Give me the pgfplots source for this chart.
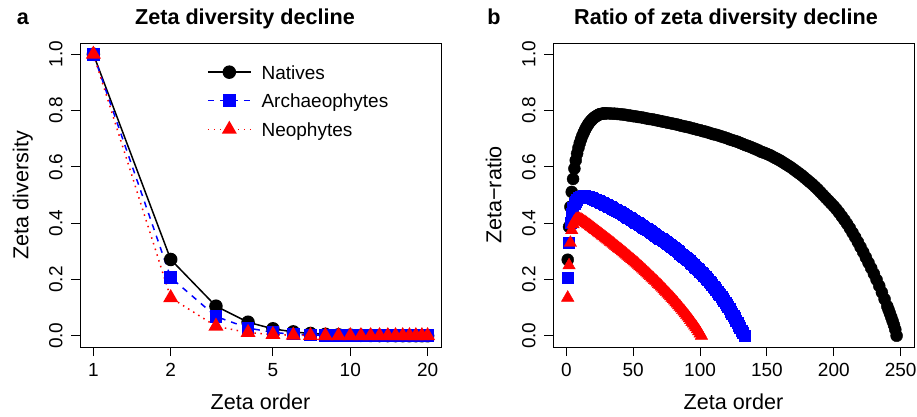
\documentclass[border=0pt]{standalone}
\usepackage{fontspec}
\setmainfont{Liberation Sans}
\usepackage{pgfplots}
\pgfplotsset{compat=1.18}

\pgfplotsset{
  rstyle/.style={
    scale only axis, width=361pt, height=304pt,
    axis line style={line width=0.9pt, black},
    tick style={line width=0.9pt, black},
    tick align=outside, major tick length=9pt,
    xtick pos=bottom, ytick pos=left,
    ymin=-0.04, ymax=1.04,
    ytick={0,0.2,0.4,0.6,0.8,1.0},
    yticklabels={0.0,0.2,0.4,0.6,0.8,1.0},
    tick label style={font=\fontsize{19}{22}\selectfont},
    yticklabel style={xshift=-5pt, rotate=90, anchor=south},
    xticklabel style={yshift=-4pt},
    label style={font=\fontsize{21.6}{26}\selectfont},
    xlabel style={at={(axis description cs:0.5,-0.207)}, anchor=base},
    ylabel style={at={(axis description cs:-0.143,0.5)}, rotate=0, anchor=base},
  }
}

\begin{document}
\begin{tikzpicture}[x=1pt,y=1pt]
\path[use as bounding box] (0,0) rectangle (917,416);

\node[anchor=base, font=\bfseries\fontsize{21.6}{26}\selectfont] at (23,391) {a};
\node[anchor=base, font=\bfseries\fontsize{21.6}{26}\selectfont] at (245,391) {Zeta diversity decline};
\node[anchor=base, font=\bfseries\fontsize{21.6}{26}\selectfont] at (494,391) {b};
\node[anchor=base, font=\bfseries\fontsize{21.6}{26}\selectfont] at (726,391) {Ratio of zeta diversity decline};

\begin{axis}[rstyle, at={(80pt,69pt)}, anchor=south west,
  xmode=log, xmin=0.887, xmax=22.55,
  xtick={1,2,5,10,20}, xticklabels={1,2,5,10,20}, xminorticks=false,
  xlabel={Zeta order}, ylabel={Zeta diversity},
  legend image code/.code={\draw[mark repeat=2,mark phase=2] plot coordinates {(0pt,0pt) (21.5pt,0pt) (43pt,0pt)};},
  legend style={at={(axis description cs:0.352,0.81)}, anchor=west, draw=none, fill=none,
    inner sep=0pt, outer sep=0pt, row sep=14.5pt, column sep=10pt,
    font=\fontsize{19}{22}\selectfont,
    nodes={inner sep=0pt, text height=14pt, text depth=0pt}},
  legend cell align=left,
]
\addplot[black, line width=1.5pt, mark=*, mark size=6pt, mark options={solid}] coordinates {
(1,1.0) (2,0.271) (3,0.105) (4,0.048) (5,0.0246) (6,0.0137) (7,0.0081) (8,0.005) (9,0.0032) (10,0.0021)
(11,0.0014) (12,0.001) (13,0.0007) (14,0.0005) (15,0.0004) (16,0.0003) (17,0.0002) (18,0.0002) (19,0.0001) (20,0.0001)};
\addlegendentry{Natives}
\addplot[blue, line width=1.5pt, dash pattern=on 6pt off 6pt, mark=square*, mark size=5.5pt, mark options={solid}] coordinates {
(1,1.0) (2,0.207) (3,0.0685) (4,0.0274) (5,0.0119) (6,0.0054) (7,0.0025) (8,0.0012) (9,0.0006) (10,0.0003)
(11,0.0002) (12,0.0001) (13,0.0001) (14,0.0) (15,0.0) (16,0.0) (17,0.0) (18,0.0) (19,0.0) (20,0.0)};
\addlegendentry{Archaeophytes}
\addplot[red, line width=1.5pt, dash pattern=on 1.5pt off 4.5pt, mark=triangle*, mark size=7.2pt, mark options={solid}] coordinates {
(1,1.0) (2,0.135) (3,0.0338) (4,0.0111) (5,0.0042) (6,0.0017) (7,0.0007) (8,0.0003) (9,0.0001) (10,0.0001)
(11,0.0) (12,0.0) (13,0.0) (14,0.0) (15,0.0) (16,0.0) (17,0.0) (18,0.0) (19,0.0) (20,0.0)};
\addlegendentry{Neophytes}
\end{axis}

\begin{axis}[rstyle, at={(553pt,69pt)}, anchor=south west,
  xmin=-10, xmax=260,
  xtick={0,50,100,150,200,250}, xticklabels={0,50,100,150,200,250},
  xlabel={Zeta order}, ylabel={Zeta−ratio},
]
\addplot[only marks, black, mark=*, mark size=6pt] coordinates {
(1,0.270) (2,0.387) (3,0.458) (4,0.511) (5,0.557) (6,0.594) (7,0.623) (8,0.647) (9,0.667) (10,0.684)
(11,0.698) (12,0.711) (13,0.722) (14,0.732) (15,0.741) (16,0.749) (17,0.756) (18,0.762) (19,0.767) (20,0.772)
(21,0.776) (22,0.779) (23,0.782) (24,0.785) (25,0.787) (26,0.788) (27,0.789) (28,0.790) (29,0.790) (30,0.790)
(32,0.790) (34,0.789) (36,0.789) (38,0.788) (40,0.787) (42,0.786) (44,0.785) (46,0.783) (48,0.782) (50,0.780)
(52,0.779) (54,0.777) (56,0.776) (58,0.774) (60,0.772) (62,0.770) (64,0.769) (66,0.767) (68,0.765) (70,0.763)
(72,0.761) (74,0.759) (76,0.757) (78,0.755) (80,0.753) (82,0.751) (84,0.749) (86,0.746) (88,0.744) (90,0.742)
(92,0.740) (94,0.737) (96,0.735) (98,0.732) (100,0.730) (102,0.727) (104,0.725) (106,0.722) (108,0.719) (110,0.716)
(112,0.714) (114,0.711) (116,0.708) (118,0.705) (120,0.702) (122,0.698) (124,0.695) (126,0.692) (128,0.689) (130,0.685)
(132,0.681) (134,0.677) (136,0.674) (138,0.670) (140,0.666) (142,0.662) (144,0.658) (146,0.653) (148,0.650) (150,0.646)
(152,0.642) (154,0.637) (156,0.632) (158,0.627) (160,0.622) (162,0.616) (164,0.610) (166,0.604) (168,0.598) (170,0.591)
(172,0.584) (174,0.577) (176,0.570) (178,0.562) (180,0.554) (182,0.546) (184,0.538) (186,0.529) (188,0.520) (190,0.510)
(192,0.500) (194,0.490) (196,0.480) (198,0.470) (200,0.460) (202,0.449) (204,0.437) (206,0.424) (208,0.411) (210,0.397)
(212,0.382) (214,0.366) (216,0.350) (218,0.333) (220,0.315) (222,0.297) (224,0.278) (226,0.259) (228,0.240) (230,0.220)
(232,0.199) (234,0.177) (236,0.154) (238,0.130) (240,0.105) (241,0.092) (242,0.079) (243,0.066) (244,0.052) (245,0.038)
(246,0.022) (247,0.0)};
\addplot[only marks, blue, mark=square*, mark size=5.5pt] coordinates {
(1,0.207) (2,0.330) (3,0.400) (4,0.435) (5,0.455) (6,0.468) (7,0.477) (8,0.484) (9,0.489) (10,0.492)
(11,0.494) (12,0.495) (13,0.496) (14,0.496) (15,0.495) (16,0.494) (17,0.493) (18,0.491) (19,0.489) (20,0.487)
(21,0.485) (22,0.483) (23,0.481) (24,0.479) (25,0.476) (26,0.474) (27,0.472) (28,0.469) (29,0.467) (30,0.464)
(31,0.462) (32,0.459) (33,0.457) (34,0.454) (35,0.452) (36,0.449) (37,0.447) (38,0.444) (39,0.441) (40,0.439)
(41,0.436) (42,0.433) (43,0.430) (44,0.427) (45,0.424) (46,0.421) (47,0.418) (48,0.415) (49,0.412) (50,0.409)
(51,0.406) (52,0.403) (53,0.400) (54,0.397) (55,0.394) (56,0.391) (57,0.388) (58,0.385) (59,0.382) (60,0.379)
(61,0.376) (62,0.373) (63,0.370) (64,0.366) (65,0.363) (66,0.360) (67,0.356) (68,0.353) (69,0.350) (70,0.346)
(71,0.343) (72,0.340) (73,0.336) (74,0.333) (75,0.330) (76,0.326) (77,0.323) (78,0.319) (79,0.316) (80,0.312)
(81,0.308) (82,0.305) (83,0.301) (84,0.297) (85,0.293) (86,0.289) (87,0.285) (88,0.281) (89,0.277) (90,0.273)
(91,0.269) (92,0.265) (93,0.261) (94,0.256) (95,0.252) (96,0.247) (97,0.243) (98,0.238) (99,0.233) (100,0.229)
(101,0.224) (102,0.219) (103,0.214) (104,0.209) (105,0.204) (106,0.198) (107,0.193) (108,0.187) (109,0.182) (110,0.176)
(111,0.170) (112,0.164) (113,0.158) (114,0.151) (115,0.145) (116,0.138) (117,0.131) (118,0.124) (119,0.117) (120,0.110)
(121,0.102) (122,0.095) (123,0.087) (124,0.079) (125,0.071) (126,0.063) (127,0.054) (128,0.046) (129,0.037) (130,0.028)
(131,0.019) (132,0.010) (133,0.0)};
\addplot[only marks, red, mark=triangle*, mark size=7.2pt] coordinates {
(1,0.135) (2,0.250) (3,0.330) (4,0.375) (5,0.396) (6,0.406) (7,0.412) (8,0.415) (9,0.415) (10,0.414)
(11,0.412) (12,0.409) (13,0.406) (14,0.403) (15,0.400) (16,0.396) (17,0.393) (18,0.389) (19,0.386) (20,0.382)
(21,0.378) (22,0.375) (23,0.371) (24,0.367) (25,0.364) (26,0.360) (27,0.356) (28,0.353) (29,0.349) (30,0.345)
(31,0.342) (32,0.338) (33,0.334) (34,0.331) (35,0.327) (36,0.323) (37,0.319) (38,0.315) (39,0.311) (40,0.308)
(41,0.304) (42,0.300) (43,0.296) (44,0.292) (45,0.288) (46,0.284) (47,0.280) (48,0.276) (49,0.272) (50,0.268)
(51,0.264) (52,0.260) (53,0.256) (54,0.252) (55,0.247) (56,0.243) (57,0.239) (58,0.234) (59,0.230) (60,0.225)
(61,0.221) (62,0.216) (63,0.212) (64,0.207) (65,0.203) (66,0.198) (67,0.194) (68,0.189) (69,0.184) (70,0.180)
(71,0.175) (72,0.170) (73,0.165) (74,0.160) (75,0.155) (76,0.150) (77,0.145) (78,0.140) (79,0.135) (80,0.130)
(81,0.125) (82,0.119) (83,0.114) (84,0.108) (85,0.103) (86,0.097) (87,0.091) (88,0.086) (89,0.080) (90,0.074)
(91,0.068) (92,0.062) (93,0.056) (94,0.049) (95,0.043) (96,0.036) (97,0.030) (98,0.023) (99,0.016) (100,0.008)
(101,0.0)};
\end{axis}
\end{tikzpicture}
\end{document}
